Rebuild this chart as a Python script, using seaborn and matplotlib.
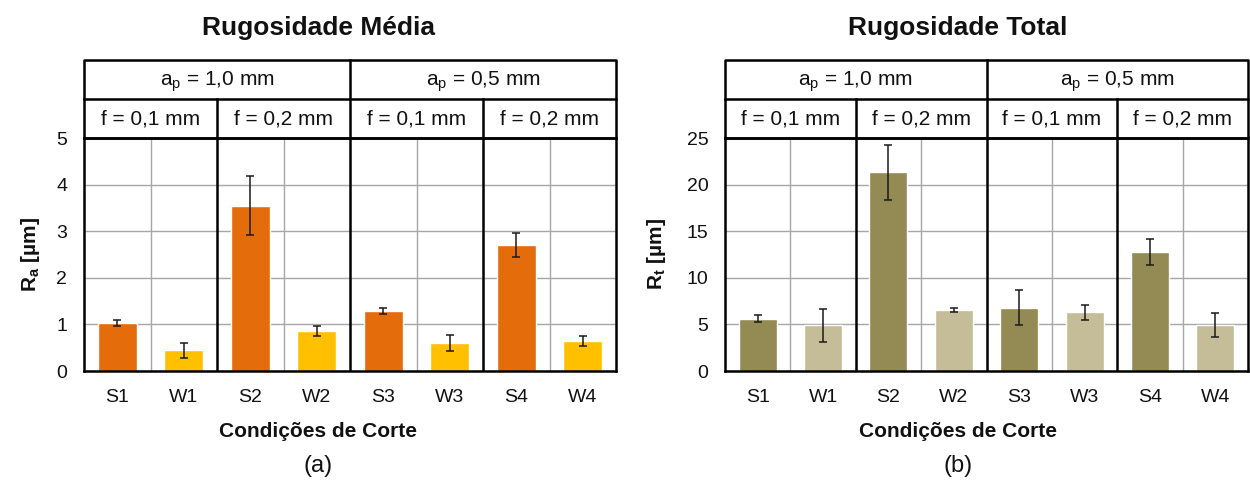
import matplotlib
matplotlib.use("Agg")
import matplotlib.pyplot as plt
import seaborn as sns
import pandas as pd

# Cutting conditions and measured roughness (mean and standard deviation)
conditions = ["S1", "W1", "S2", "W2", "S3", "W3", "S4", "W4"]
ra_mean = [1.03, 0.44, 3.55, 0.86, 1.29, 0.60, 2.71, 0.64]
ra_err = [0.07, 0.17, 0.63, 0.10, 0.07, 0.17, 0.26, 0.11]
rt_mean = [5.6, 4.9, 21.3, 6.55, 6.8, 6.3, 12.8, 4.9]
rt_err = [0.38, 1.8, 2.9, 0.25, 1.85, 0.78, 1.4, 1.3]

ap_labels = [r"a$_\mathregular{p}$ = 1,0 mm", r"a$_\mathregular{p}$ = 0,5 mm"]
f_labels = ["f = 0,1 mm", "f = 0,2 mm", "f = 0,1 mm", "f = 0,2 mm"]

ra_colors = ["#E46C0A", "#FFC000"]
rt_colors = ["#948A54", "#C4BD97"]

sns.set_theme(style="white")
plt.rcParams["font.family"] = ["Liberation Sans", "DejaVu Sans"]
plt.rcParams["mathtext.fontset"] = "custom"
plt.rcParams["mathtext.rm"] = "Liberation Sans"
plt.rcParams["mathtext.bf"] = "Liberation Sans:bold"

W, H = 1250, 490
fig = plt.figure(figsize=(W / 100, H / 100), dpi=100)

GRID = "#A6A6A6"
THICK = 1.8
TXT = "#111111"


def panel(x0, x1, center, values, errors, colors, ymax, ystep, ylabel,
          title, tag, label_x):
    left = x0 / W
    width = (x1 - x0) / W
    bottom = (H - 371) / H
    height = (371 - 138) / H
    ax = fig.add_axes([left, bottom, width, height])

    df = pd.DataFrame({"cond": conditions, "val": values})
    palette = {c: colors[i % 2] for i, c in enumerate(conditions)}
    sns.barplot(data=df, x="cond", y="val", hue="cond", palette=palette,
                legend=False, width=0.58, saturation=1, ax=ax, errorbar=None,
                zorder=2)
    ax.errorbar(range(len(conditions)), values, yerr=errors, fmt="none",
                ecolor="#1a1a1a", elinewidth=1.1, capsize=2.8, capthick=1.1,
                zorder=3)

    ax.set_xlim(-0.5, len(conditions) - 0.5)
    ax.set_ylim(0, ymax)
    ax.set_yticks(range(0, ymax + 1, ystep))
    ax.yaxis.grid(True, color=GRID, lw=1)
    ax.set_axisbelow(True)
    for xv in [0.5, 2.5, 4.5, 6.5]:
        ax.axvline(xv, color=GRID, lw=1, zorder=0.5)
    for xv in [1.5, 3.5, 5.5]:
        ax.axvline(xv, color="black", lw=THICK, zorder=4)
    for s in ax.spines.values():
        s.set_color("black")
        s.set_linewidth(THICK)
        s.set_visible(True)

    ax.tick_params(axis="both", length=0, labelsize=14, colors=TXT)
    ax.tick_params(axis="y", pad=12)
    ax.tick_params(axis="x", pad=13)
    ax.set_xlabel("")
    ax.set_ylabel(ylabel, fontsize=15, fontweight="bold", color=TXT)
    ax.yaxis.set_label_coords(label_x, 0.5)

    # header table with depth of cut and feed
    hax = fig.add_axes([left, (H - 138) / H, width, 78 / H])
    hax.set_xlim(-0.5, len(conditions) - 0.5)
    hax.set_ylim(0, 2)
    hax.axis("off")
    x_lo, x_hi = -0.5, len(conditions) - 0.5
    lkw = dict(color="black", lw=THICK, solid_capstyle="projecting")
    hax.plot([x_lo, x_hi, x_hi, x_lo, x_lo], [0, 0, 2, 2, 0], **lkw,
             clip_on=False)
    hax.plot([x_lo, x_hi], [1, 1], **lkw, clip_on=False)
    hax.plot([3.5, 3.5], [0, 2], **lkw, clip_on=False)
    for xv in [1.5, 5.5]:
        hax.plot([xv, xv], [0, 1], **lkw, clip_on=False)
    for i, lab in enumerate(ap_labels):
        hax.text(1.5 + 4 * i, 1.45, lab, ha="center", va="center",
                 fontsize=15, color=TXT)
    for i, lab in enumerate(f_labels):
        hax.text(0.5 + 2 * i, 0.48, lab, ha="center", va="center",
                 fontsize=15, color=TXT)

    fig.text(center / W, 1 - 28 / H, title, ha="center", va="center",
             fontsize=19, fontweight="bold", color=TXT)
    fig.text(center / W, 1 - 431 / H, "Condições de Corte", ha="center",
             va="center", fontsize=15, fontweight="bold", color=TXT)
    fig.text(center / W, 1 - 466 / H, tag, ha="center", va="center",
             fontsize=17, color=TXT)
    return ax


panel(84, 616, 318, ra_mean, ra_err, ra_colors, 5, 1,
      r"R$_\mathbf{a}$ [µm]", "Rugosidade Média", "(a)", -0.079)
panel(725, 1248, 958, rt_mean, rt_err, rt_colors, 25, 5,
      r"R$_\mathbf{t}$ [µm]", "Rugosidade Total", "(b)", -0.109)

fig.savefig("out.png", dpi=100)
